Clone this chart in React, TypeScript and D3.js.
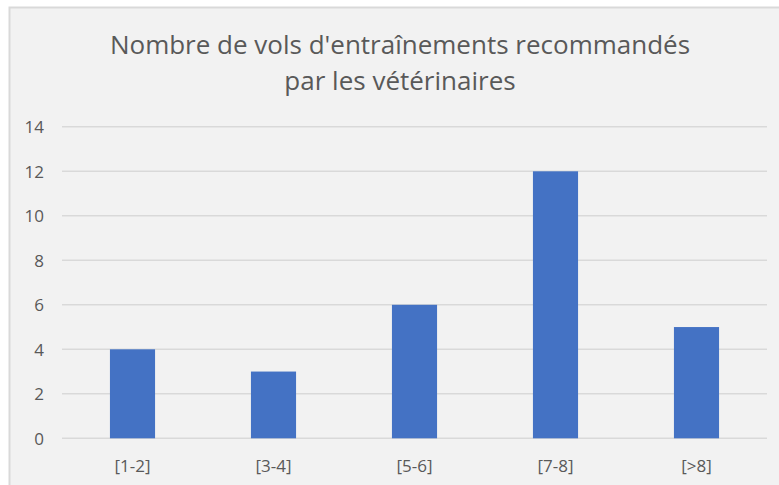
import React from "react";
import * as d3 from "d3";

const categories = ["[1-2]", "[3-4]", "[5-6]", "[7-8]", "[>8]"];
const values = [4, 3, 6, 12, 5];
const yTicks = [0, 2, 4, 6, 8, 10, 12, 14];
const titleLines = ["Nombre de vols d'entraînements recommandés", "par les vétérinaires"];

export default function App() {
  const W = 779, H = 485;
  const left = 62, right = 767, top = 126.8, bottom = 438.3;
  const x = d3.scaleBand().domain(categories).range([left, right]).paddingInner(0.68).paddingOuter(0.34);
  const y = d3.scaleLinear().domain([0, 14]).range([bottom, top]);
  const font = "'Open Sans', sans-serif";
  return (
    <svg width={W} height={H} style={{ position: "absolute", left: 0, top: 0 }}>
      <rect x={0} y={0} width={W} height={H} fill="#ffffff" />
      <rect x={9.5} y={7.5} width={W + 10} height={H + 10} fill="#f2f2f2" stroke="#d9d9d9" strokeWidth={2} />
      {titleLines.map((t, i) => (
        <text key={i} x={400} y={53.5 + i * 36} textAnchor="middle" fill="#595959" fontFamily={font} fontSize={26}>
          {t}
        </text>
      ))}
      {yTicks.map((t) => (
        <g key={t}>
          <line x1={left} x2={right} y1={y(t)} y2={y(t)} stroke="#d9d9d9" strokeWidth={1.5} />
          <text x={44} y={y(t) + 6.5} textAnchor="end" fill="#595959" fontFamily={font} fontSize={17}>
            {t}
          </text>
        </g>
      ))}
      {categories.map((c, i) => (
        <g key={c}>
          <rect x={x(c)} y={y(values[i])} width={x.bandwidth()} height={y(0) - y(values[i])} fill="#4472c4" />
          <text x={(x(c) as number) + x.bandwidth() / 2} y={471.5} textAnchor="middle" fill="#595959" fontFamily={font} fontSize={17}>
            {c}
          </text>
        </g>
      ))}
    </svg>
  );
}
